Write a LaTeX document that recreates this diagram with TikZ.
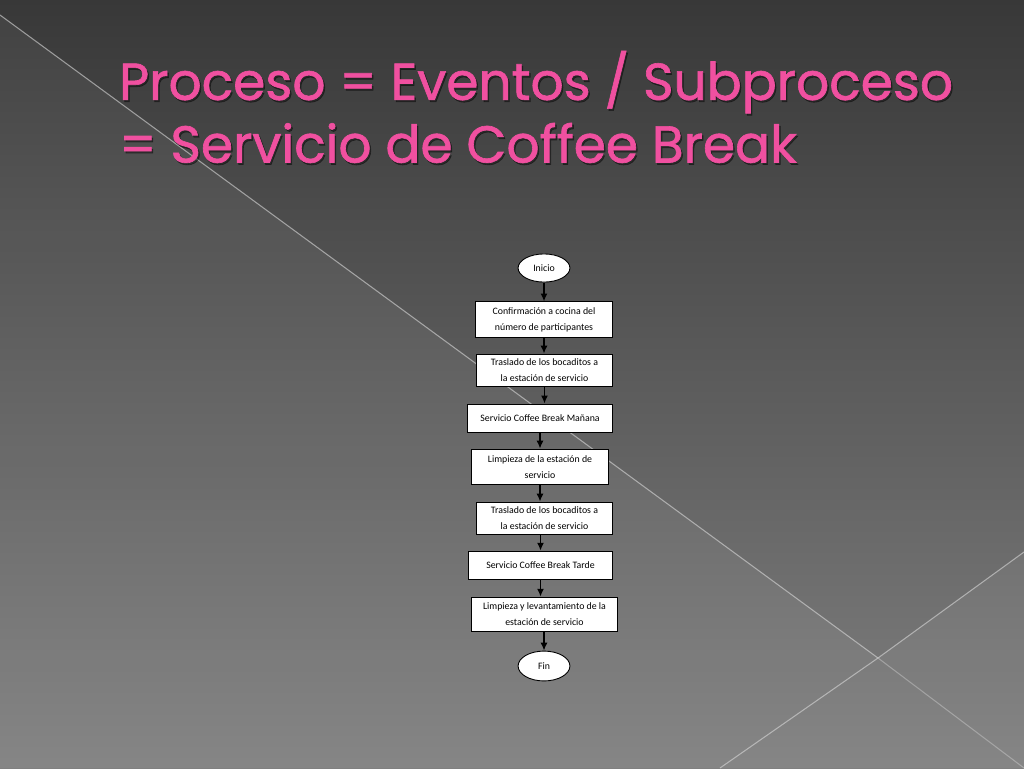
\documentclass[tikz,border=0pt]{standalone}
\usepackage{fontspec}
\setmainfont{Carlito}
\newfontfamily\titlefont[FakeBold=1.2]{Poppins}
\usetikzlibrary{positioning,shapes.geometric,arrows.meta}
\definecolor{titlepink}{RGB}{240,80,160}
\tikzset{
    stepbox/.style={
        draw=black, fill=white, line width=0.5pt, % caja del proceso
        align=center, font=\fontsize{5.6}{9}\selectfont,
        inner sep=0pt
    },
    termnode/.style={
        ellipse, draw=black, fill=white, line width=0.5pt,
        font=\fontsize{5.6}{7}\selectfont,
        minimum width=29.5pt, minimum height=16pt, inner sep=0pt
    },
    flow/.style={-{Latex[length=4.5pt,width=4pt]}, line width=1pt}
}
\begin{document}
\begin{tikzpicture}[x=0.02cm, y=-0.02cm]
% fondo
\shade[top color=black!78, bottom color=black!50] (0,0) rectangle (1024,768);
\useasboundingbox (0,0) rectangle (1024,768);
\fill[white, opacity=0.05] (0,15) -- (878,658) -- (1024,552) -- (1024,768) -- (0,768) -- cycle;
\draw[white!70!gray, opacity=0.6, line width=0.6pt] (0,15) -- (878,658);
\draw[white!70!gray, opacity=0.6, line width=0.6pt] (720,768) -- (878,658) -- (1024,552);
\draw[white!70!gray, opacity=0.4, line width=0.6pt] (878,658) -- (1024,768);

% titulo
\node[anchor=west, text=black, opacity=0.4, font=\titlefont\fontsize{29.5}{35.7}\selectfont, align=left]
    at (114.5,109) {Proceso = Eventos / Subproceso\\= Servicio de Coffee Break};
\node[anchor=west, text=titlepink, font=\titlefont\fontsize{29.5}{35.7}\selectfont, align=left]
    (title) at (113,107) {Proceso = Eventos / Subproceso\\= Servicio de Coffee Break};

% diagrama
\node[termnode] (inicio) at (544,268) {Inicio};
\node[stepbox, minimum width=78pt, minimum height=20pt] (conf) at (544,319.5)
    {Confirmación a cocina del\\número de participantes};
\node[stepbox, minimum width=77.5pt, minimum height=18.7pt] (tras1) at (544.5,370.5)
    {Traslado de los bocaditos a\\la estación de servicio};
\node[stepbox, minimum width=83pt, minimum height=16pt] (manana) at (540,418)
    {Servicio Coffee Break Mañana};
\node[stepbox, minimum width=78pt, minimum height=20.4pt] (limp1) at (540,467)
    {Limpieza de la estación de\\servicio};
\node[stepbox, minimum width=77.5pt, minimum height=18.7pt] (tras2) at (544.5,518.5)
    {Traslado de los bocaditos a\\la estación de servicio};
\node[stepbox, minimum width=82pt, minimum height=16.4pt] (tarde) at (540.5,565.5)
    {Servicio Coffee Break Tarde};
\node[stepbox, minimum width=83.3pt, minimum height=19.8pt] (limp2) at (544.5,614.5)
    {Limpieza y levantamiento de la\\estación de servicio};
\node[termnode, minimum height=17pt] (fin) at (544,666) {Fin};

\draw[flow] (inicio) -- (inicio |- conf.north);
\draw[flow] (conf.south) -- (conf.south |- tras1.north);
\draw[flow] (tras1.south) -- (tras1.south |- manana.north);
\draw[flow] (manana.south -| limp1) -- (limp1.north);
\draw[flow] (limp1.south) -- (limp1.south |- tras2.north);
\draw[flow] (tras2.south -| tarde) -- (tarde.north);
\draw[flow] (tarde.south) -- (tarde.south |- limp2.north);
\draw[flow] (limp2.south -| fin) -- (fin.north);
\end{tikzpicture}
\end{document}
